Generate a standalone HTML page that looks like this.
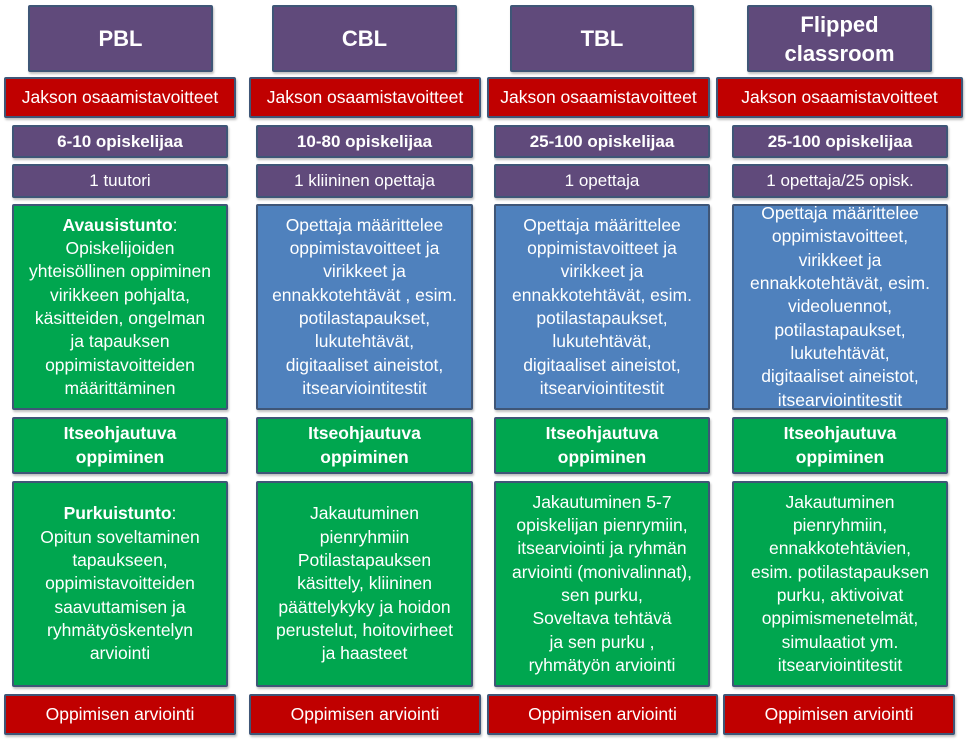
<!DOCTYPE html>
<html><head><meta charset="utf-8"><style>
body{margin:0;width:966px;height:741px;background:#fff;overflow:hidden;position:relative;font-family:"Liberation Sans",sans-serif;}
.b{position:absolute;box-sizing:border-box;border:2px solid #3f5677;border-radius:2px;display:flex;align-items:center;justify-content:center;text-align:center;color:#fff;box-shadow:1px 2px 2px rgba(0,0,0,.25);white-space:nowrap;}
.h{background:#604a7b;font-weight:bold;font-size:22px;line-height:29px;}
.r{background:#c00000;font-size:17.5px;}
.p{background:#604a7b;font-size:17px;}
.g{background:#00a64f;font-size:17.5px;line-height:23.3px;}
.u{background:#4f81bd;font-size:17.5px;line-height:23.3px;}
.bo{font-weight:bold}
</style></head><body>
<!-- col1 -->
<div class="b h" style="left:28px;top:5px;width:185px;height:67px">PBL</div>
<div class="b r" style="left:4px;top:77px;width:232px;height:41px">Jakson osaamistavoitteet</div>
<div class="b p" style="left:12px;top:125px;width:216px;height:33px"><b>6-10 opiskelijaa</b></div>
<div class="b p" style="left:12px;top:164px;width:216px;height:34px">1 tuutori</div>
<div class="b g" style="left:12px;top:204px;width:216px;height:206px"><div><b>Avausistunto</b>:<br>Opiskelijoiden<br>yhteisöllinen oppiminen<br>virikkeen pohjalta,<br>käsitteiden, ongelman<br>ja tapauksen<br>oppimistavoitteiden<br>määrittäminen</div></div>
<div class="b g bo" style="left:12px;top:417px;width:216px;height:57px">Itseohjautuva<br>oppiminen</div>
<div class="b g" style="left:12px;top:481px;width:216px;height:206px"><div><b>Purkuistunto</b>:<br>Opitun soveltaminen<br>tapaukseen,<br>oppimistavoitteiden<br>saavuttamisen ja<br>ryhmätyöskentelyn<br>arviointi</div></div>
<div class="b r" style="left:4px;top:694px;width:232px;height:41px">Oppimisen arviointi</div>
<!-- col2 -->
<div class="b h" style="left:272px;top:5px;width:185px;height:67px">CBL</div>
<div class="b r" style="left:249px;top:77px;width:232px;height:41px">Jakson osaamistavoitteet</div>
<div class="b p" style="left:256px;top:125px;width:217px;height:33px"><b>10-80 opiskelijaa</b></div>
<div class="b p" style="left:256px;top:164px;width:217px;height:34px">1 kliininen opettaja</div>
<div class="b u" style="left:256px;top:204px;width:217px;height:206px"><div>Opettaja määrittelee<br>oppimistavoitteet ja<br>virikkeet ja<br>ennakkotehtävät , esim.<br>potilastapaukset,<br>lukutehtävät,<br>digitaaliset aineistot,<br>itsearviointitestit</div></div>
<div class="b g bo" style="left:256px;top:417px;width:217px;height:57px">Itseohjautuva<br>oppiminen</div>
<div class="b g" style="left:256px;top:481px;width:217px;height:206px"><div>Jakautuminen<br>pienryhmiin<br>Potilastapauksen<br>käsittely, kliininen<br>päättelykyky ja hoidon<br>perustelut, hoitovirheet<br>ja haasteet</div></div>
<div class="b r" style="left:249px;top:694px;width:232px;height:41px">Oppimisen arviointi</div>
<!-- col3 -->
<div class="b h" style="left:510px;top:5px;width:184px;height:67px">TBL</div>
<div class="b r" style="left:487px;top:77px;width:223px;height:41px">Jakson osaamistavoitteet</div>
<div class="b p" style="left:494px;top:125px;width:216px;height:33px"><b>25-100 opiskelijaa</b></div>
<div class="b p" style="left:494px;top:164px;width:216px;height:34px">1 opettaja</div>
<div class="b u" style="left:494px;top:204px;width:216px;height:206px"><div>Opettaja määrittelee<br>oppimistavoitteet ja<br>virikkeet ja<br>ennakkotehtävät, esim.<br>potilastapaukset,<br>lukutehtävät,<br>digitaaliset aineistot,<br>itsearviointitestit</div></div>
<div class="b g bo" style="left:494px;top:417px;width:216px;height:57px">Itseohjautuva<br>oppiminen</div>
<div class="b g" style="left:494px;top:481px;width:216px;height:206px"><div>Jakautuminen 5-7<br>opiskelijan pienrymiin,<br>itsearviointi ja ryhmän<br>arviointi (monivalinnat),<br>sen purku,<br>Soveltava tehtävä<br>ja sen purku ,<br>ryhmätyön arviointi</div></div>
<div class="b r" style="left:487px;top:694px;width:231px;height:41px">Oppimisen arviointi</div>
<!-- col4 -->
<div class="b h" style="left:747px;top:5px;width:185px;height:67px">Flipped<br>classroom</div>
<div class="b r" style="left:716px;top:77px;width:247px;height:41px">Jakson osaamistavoitteet</div>
<div class="b p" style="left:732px;top:125px;width:216px;height:33px"><b>25-100 opiskelijaa</b></div>
<div class="b p" style="left:732px;top:164px;width:216px;height:34px">1 opettaja/25 opisk.</div>
<div class="b u" style="left:732px;top:204px;width:216px;height:206px"><div>Opettaja määrittelee<br>oppimistavoitteet,<br>virikkeet ja<br>ennakkotehtävät, esim.<br>videoluennot,<br>potilastapaukset,<br>lukutehtävät,<br>digitaaliset aineistot,<br>itsearviointitestit</div></div>
<div class="b g bo" style="left:732px;top:417px;width:216px;height:57px">Itseohjautuva<br>oppiminen</div>
<div class="b g" style="left:732px;top:481px;width:216px;height:206px"><div>Jakautuminen<br>pienryhmiin,<br>ennakkotehtävien,<br>esim. potilastapauksen<br>purku, aktivoivat<br>oppimismenetelmät,<br>simulaatiot ym.<br>itsearviointitestit</div></div>
<div class="b r" style="left:723px;top:694px;width:232px;height:41px">Oppimisen arviointi</div>
</body></html>
